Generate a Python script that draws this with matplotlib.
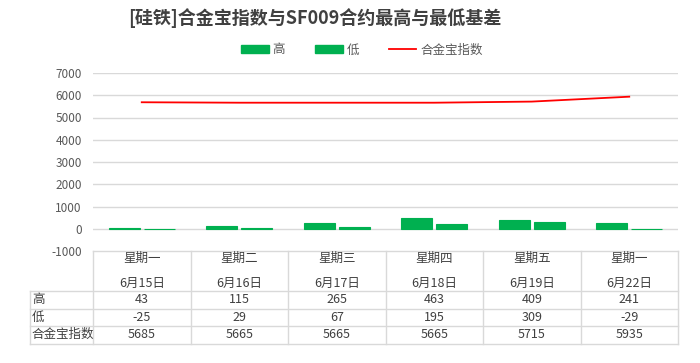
import matplotlib
matplotlib.use("Agg")
import matplotlib.pyplot as plt
from matplotlib.lines import Line2D
from matplotlib.patches import Patch
import numpy as np

plt.rcParams['font.family'] = ['Noto Sans CJK SC', 'DejaVu Sans']

weekdays = ["星期一", "星期二", "星期三", "星期四", "星期五", "星期一"]
dates = ["6月15日", "6月16日", "6月17日", "6月18日", "6月19日", "6月22日"]
high = [43, 115, 265, 463, 409, 241]
low = [-25, 29, 67, 195, 309, -29]
index_vals = [5685, 5665, 5665, 5665, 5715, 5935]
yticks = [-1000, 0, 1000, 2000, 3000, 4000, 5000, 6000, 7000]
series_names = ["高", "低", "合金宝指数"]
title = "[硅铁]合金宝指数与SF009合约最高与最低基差"

W, H = 700, 363
fig = plt.figure(figsize=(W / 100, H / 100), dpi=100)

def fx(px):
    return px / W

def fy(py):
    return 1 - py / H

left_px, right_px, top_px, bot_px = 93, 678, 73, 251
ax = fig.add_axes([fx(left_px), fy(bot_px), fx(right_px - left_px), (bot_px - top_px) / H])

green = "#00B050"
red = "#FF0000"
grid_c = "#D9D9D9"
text_c = "#595959"

x = np.arange(len(high))
bw = 0.32
ax.bar(x - 0.18, high, bw, color=green, edgecolor=green, lw=0.8, zorder=3)
ax.bar(x + 0.18, low, bw, color=green, edgecolor=green, lw=0.8, zorder=3)
ax.plot(x, index_vals, color=red, lw=1.3, zorder=4)

ax.set_xlim(-0.5, len(high) - 0.5)
ax.set_ylim(-1000, 7000)
ax.set_yticks(yticks)
ax.set_yticklabels([str(v) for v in yticks], fontsize=8.5, color=text_c)
ax.tick_params(axis='y', length=0, pad=8)
ax.set_xticks([])
for s in ax.spines.values():
    s.set_visible(False)
for v in yticks[1:]:
    ax.axhline(v, color=grid_c, lw=1, zorder=1)

# Title
fig.text(fx(315), fy(18), title, ha='center', va='center', fontsize=13,
         fontweight='bold', color="#404040")

# Legend
handles = [Patch(color=green), Patch(color=green), Line2D([0], [0], color=red, lw=1.3)]
fig.legend(handles, series_names, loc='center', bbox_to_anchor=(fx(362), fy(50)),
           ncol=3, frameon=False, fontsize=9, handlelength=2.2, handleheight=0.6,
           columnspacing=2.4, handletextpad=0.3, labelcolor=text_c)

# Table
line_c = "#D9D9D9"
tbl_top, hdr_bot = 251, 291
rows_y = [291, 308.5, 326, 343.5]
lab_left = 30
col_w = (right_px - left_px) / len(high)

def hline(y, x0, x1):
    fig.add_artist(Line2D([fx(x0), fx(x1)], [fy(y), fy(y)], color=line_c, lw=1))

def vline(xp, y0, y1):
    fig.add_artist(Line2D([fx(xp), fx(xp)], [fy(y0), fy(y1)], color=line_c, lw=1))

hline(tbl_top, left_px, right_px)
for ry in rows_y:
    hline(ry, lab_left, right_px)
for i in range(len(high) + 1):
    vline(left_px + i * col_w, tbl_top, rows_y[-1])
vline(lab_left, rows_y[0], rows_y[-1])

fs = 9
for i in range(len(high)):
    cx = fx(left_px + (i + 0.5) * col_w)
    fig.text(cx, fy(258), weekdays[i], ha='center', va='center', fontsize=fs, color="#404040")
    fig.text(cx, fy(283), dates[i], ha='center', va='center', fontsize=fs, color="#404040")
    for r, vals in enumerate([high, low, index_vals]):
        cy = fy((rows_y[r] + rows_y[r + 1]) / 2)
        fig.text(cx, cy, str(vals[i]), ha='center', va='center', fontsize=fs, color="#404040")
for r, name in enumerate(series_names):
    cy = fy((rows_y[r] + rows_y[r + 1]) / 2)
    fig.text(fx(lab_left + 2), cy, name, ha='left', va='center', fontsize=fs, color="#404040")

fig.savefig("out.png", dpi=100)
